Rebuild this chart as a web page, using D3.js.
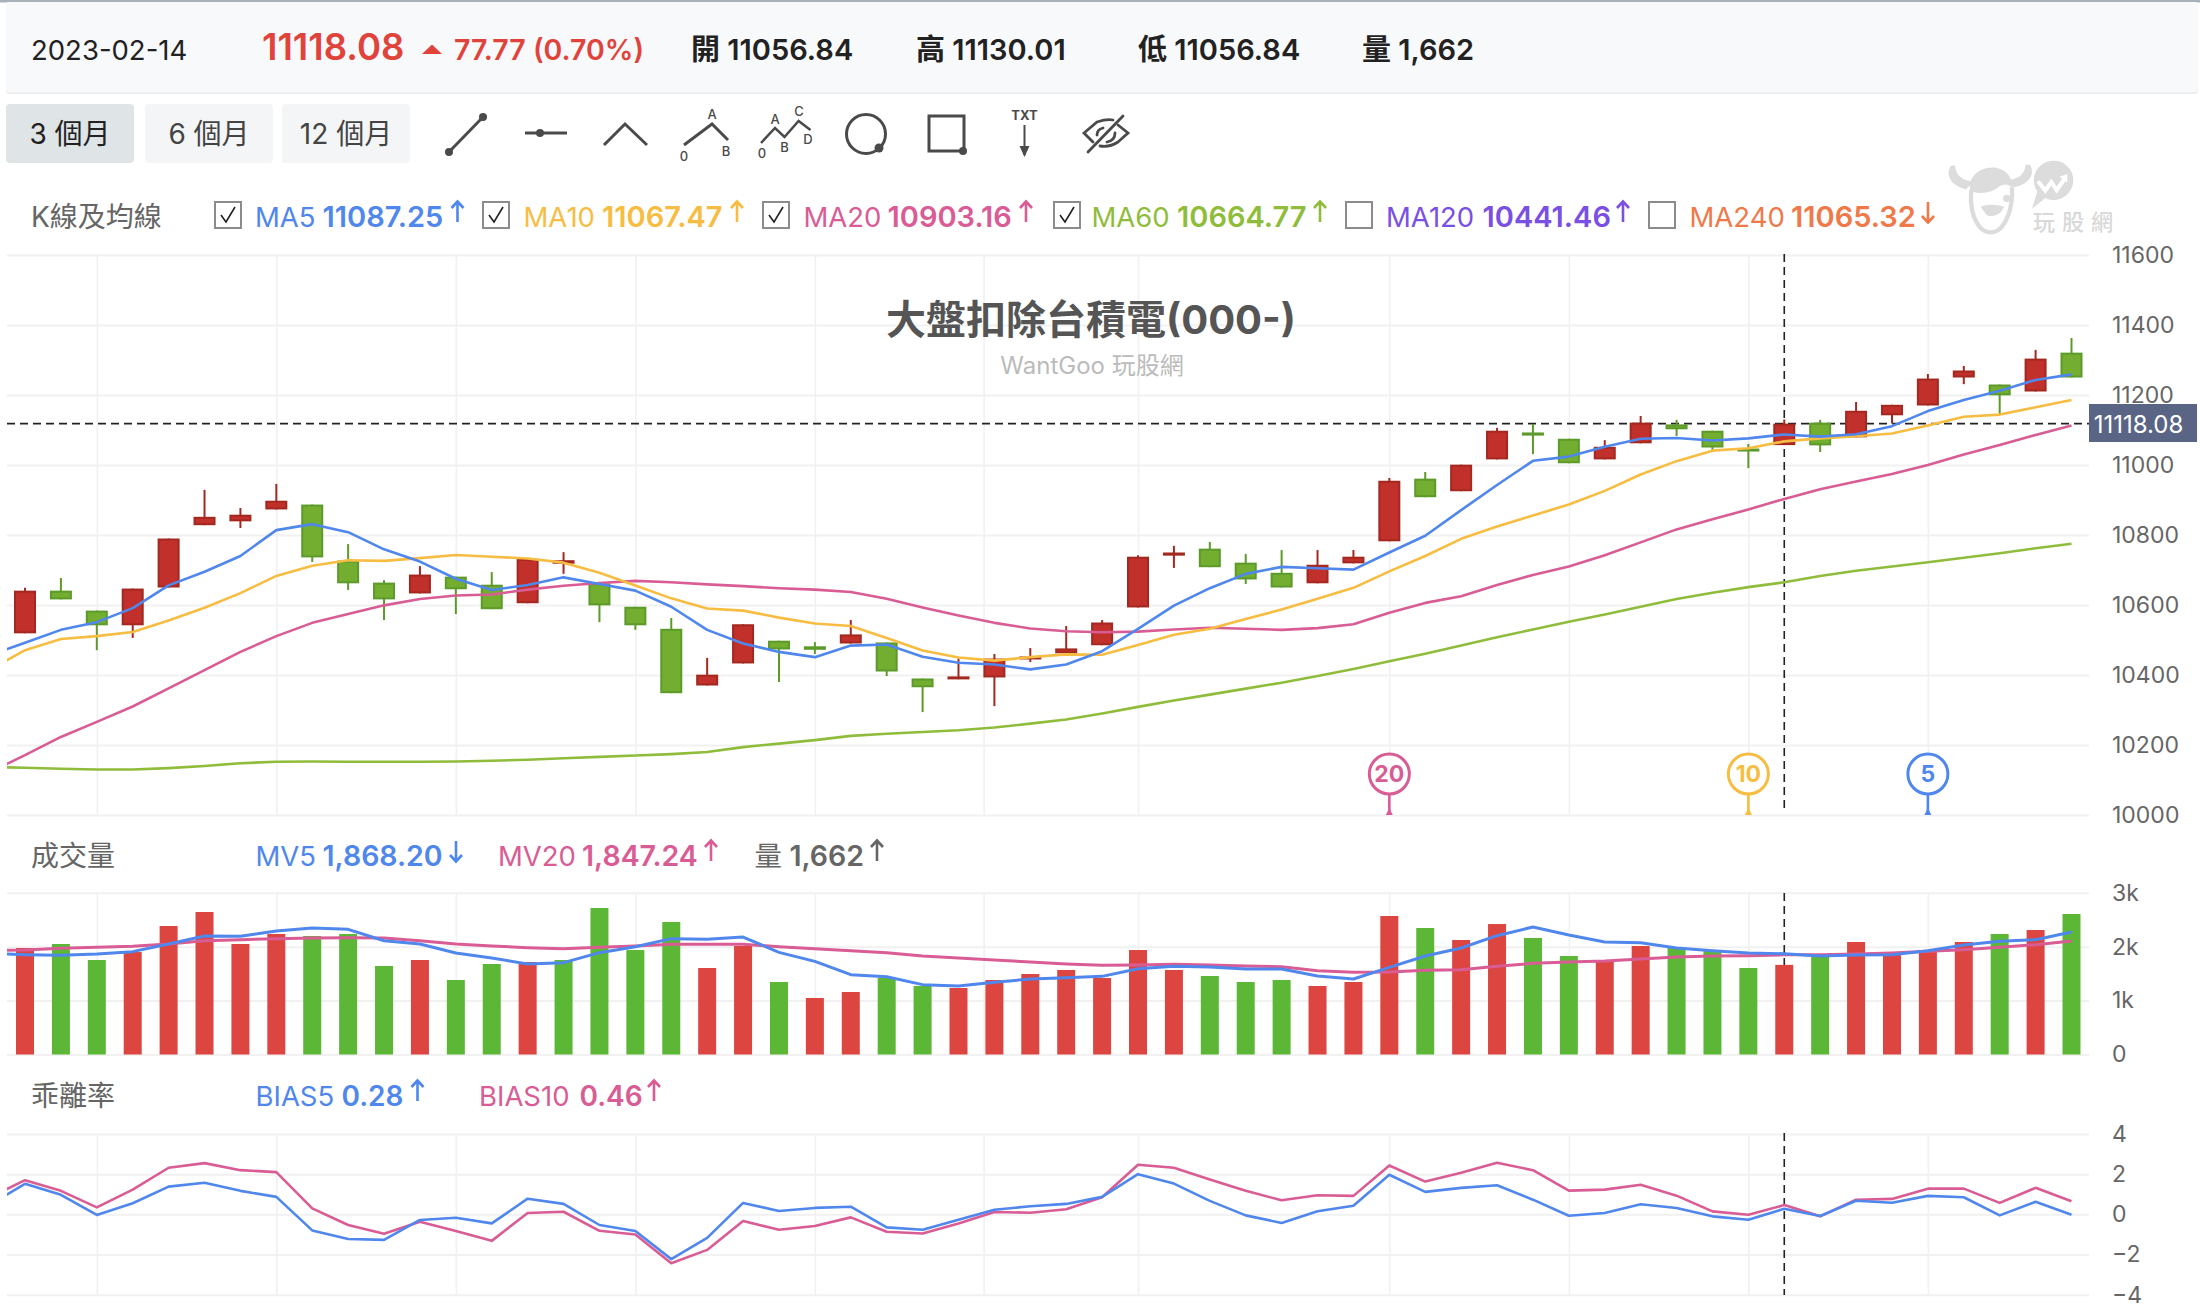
<!DOCTYPE html>
<html lang="zh-Hant">
<head>
<meta charset="utf-8">
<title>大盤扣除台積電(000-)</title>
<script src="https://cdn.jsdelivr.net/npm/d3@7/dist/d3.min.js"></script>
<style>
  html, body { margin: 0; padding: 0; background: #fff; }
  svg { display: block; font-family: Inter, "Noto Sans CJK TC", sans-serif; }
</style>
</head>
<body>
<svg id="chart" width="2200" height="1312"></svg>
<script>
// Daily candles: each series runs from the oldest session to the newest.
const candleHigh = [10649,10677,10584,10647,10790,10929,10877,10946,10887,10774,10671,10711,10681,10694,10732,10751,10662,10595,10563,10449,10545,10498,10494,10557,10493,10390,10447,10460,10477,10540,10557,10742,10769,10780,10746,10757,10757,10757,10963,10980,11001,11106,11117,11075,11071,11140,11129,11098,11060,11130.01,11129,11180,11172,11260,11283,11230,11329,11363];
const candleLow = [10519,10616,10471,10506,10650,10828,10820,10873,10723,10643,10557,10633,10574,10588,10605,10689,10551,10529,10348,10370,10433,10380,10460,10490,10397,10294,10388,10311,10437,10462,10485,10593,10706,10708,10660,10650,10662,10719,10782,10908,10925,11016,11031,11005,11016,11062,11083,11043,10991,11056.84,11037,11079,11119,11170,11231,11144,11210,11250];
const candleOpen = [10519,10641,10584,10542,10650,10828,10839,10873,10887,10727,10664,10633,10681,10658,10605,10718,10662,10595,10532,10370,10433,10498,10482,10490,10493,10390,10388,10393,10445,10462,10485,10593,10741,10761,10721,10692,10662,10719,10782,10961,10925,11016,11093,11075,11016,11062,11116,11098,11047,11056.84,11121,11079,11142,11170,11250,11230,11210,11321];
const candleClose = [10641,10616,10542,10647,10790,10852,10858,10898,10736,10662,10616,10687,10645,10588,10732,10728,10599,10542,10348,10401,10545,10473,10472,10516,10410,10365,10396,10447,10453,10476,10550,10738,10750,10708,10673,10650,10715,10738,10955,10908,11001,11098,11084,11005,11052,11121,11102,11050,11039,11118.08,11056,11155,11172,11247,11270,11199,11304,11250];

// Moving averages carry one extra leading session that starts left of the plot.
const ma5 = [10456,10492,10529,10551,10591,10656,10695,10740,10814,10831,10808,10759,10724,10675,10643,10657,10679,10660,10641,10595,10529,10490,10466,10451,10484,10487,10452,10435,10430,10416,10430,10468,10532,10598,10648,10689,10709,10705,10701,10750,10798,10871,10943,11012,11024,11052,11075,11077,11070,11076,11087.25,11081,11088,11111,11154,11186,11212,11243,11259];
const ma10 = [10414,10471,10503,10511,10523,10556,10592,10634,10683,10712,10728,10726,10734,10743,10738,10733,10721,10692,10656,10619,10590,10584,10564,10547,10540,10506,10470,10450,10441,10451,10459,10458,10486,10515,10532,10560,10587,10618,10649,10696,10740,10789,10824,10856,10887,10926,10973,11011,11041,11048,11067.47,11076,11082,11090,11113,11138,11144,11165,11186];
const ma20 = [10121,10171,10223,10266,10310,10362,10414,10466,10511,10549,10574,10599,10617,10627,10630,10644,10655,10663,10669,10665,10659,10654,10648,10644,10637,10618,10593,10570,10549,10533,10525,10522,10524,10530,10535,10532,10529,10534,10545,10578,10606,10625,10657,10686,10710,10742,10779,10816,10845,10873,10903.16,10931,10953,10974,11000,11030,11057,11086,11113];
const ma60 = [10137,10135,10132,10130,10130,10134,10140,10148,10152,10153,10152,10152,10152,10153,10155,10158,10162,10166,10170,10174,10180,10194,10204,10214,10226,10232,10237,10242,10250,10261,10273,10290,10309,10327,10344,10361,10378,10397,10417,10439,10461,10484,10508,10530,10552,10573,10595,10617,10635,10651,10664.77,10683,10698,10710,10722,10735,10748,10762,10775];

// Volume, with up (1) and down (0) days for the bar colours.
const volume = [1975,2049,1752,1900,2382,2642,2049,2234,2197,2234,1641,1752,1381,1678,1715,1752,2716,1937,2457,1604,2012,1344,1048,1159,1418,1270,1233,1381,1492,1567,1418,1937,1567,1455,1344,1381,1270,1344,2568,2345,2123,2419,2160,1826,1752,2012,1975,1937,1604,1662,1826,2086,1863,1937,2086,2234,2308,2605];
const volumeUp = [1,0,0,1,1,1,1,1,0,0,0,1,0,0,1,0,0,0,0,1,1,0,1,1,0,0,1,1,1,1,1,1,1,0,0,0,1,1,1,0,1,1,0,0,1,1,0,0,0,1,0,1,1,1,1,0,1,0];
const mv5 = [1876,1851,1839,1863,1907,2049,2197,2191,2290,2345,2321,2110,2049,1882,1789,1678,1703,1888,1999,2148,2135,2178,1894,1727,1480,1443,1295,1270,1338,1400,1424,1449,1591,1635,1622,1585,1585,1455,1400,1616,1826,1975,2203,2364,2216,2086,2073,1975,1925,1882,1868.2,1826,1845,1851,1925,2030,2098,2129,2271];
const mv20 = [1925,1937,1968,1987,2005,2049,2110,2129,2148,2160,2166,2160,2110,2049,2012,1981,1962,1987,2012,2042,2042,2042,1999,1962,1925,1888,1826,1789,1752,1715,1678,1653,1659,1672,1659,1641,1628,1554,1523,1530,1560,1573,1635,1690,1715,1733,1771,1808,1826,1832,1847.24,1851,1863,1882,1913,1944,1987,2036,2104];

// Deviation of the close from its 5 and 10 day averages, in percent.
const bias5 = [0.45,1.52,0.97,-0.03,0.55,1.38,1.57,1.17,0.87,-0.80,-1.23,-1.27,-0.28,-0.17,-0.45,0.78,0.52,-0.53,-0.83,-2.23,-1.17,0.57,0.17,0.32,0.38,-0.65,-0.77,-0.27,0.23,0.40,0.52,0.87,2.00,1.53,0.67,-0.05,-0.43,0.15,0.43,1.97,1.12,1.32,1.45,0.73,-0.07,0.07,0.50,0.32,-0.10,-0.27,0.28,-0.08,0.68,0.58,0.92,0.85,-0.05,0.63,-0.02];
const bias10 = [0.83,1.70,1.17,0.35,1.23,2.32,2.55,2.20,2.10,0.30,-0.53,-0.97,-0.37,-0.83,-1.32,0.07,0.13,-0.82,-1.00,-2.43,-1.77,-0.33,-0.77,-0.58,-0.15,-0.87,-0.95,-0.45,0.12,0.08,0.25,0.85,2.47,2.32,1.73,1.17,0.70,0.95,0.92,2.43,1.63,2.07,2.57,2.20,1.18,1.23,1.47,0.93,0.15,-0.02,0.46,-0.10,0.73,0.77,1.28,1.28,0.57,1.32,0.65];

// Axis ticks.
const priceTicks = [10000,10200,10400,10600,10800,11000,11200,11400,11600];
const volumeTicks = [0,1000,2000,3000];
const biasTicks = [-4,-2,0,2,4];
const monthTicks = [2,7,12,17,22,26.7,31,38,43,48,53];

// Crosshair session and the sessions where the close crossed an average.
const hoverIndex = 49;
const hoverPrice = 11118.08;
const crossLabels = ["20","10","5"];
const crossIndex = [38,48,53];

const chartTitle = "大盤扣除台積電(000-)";
const chartSource = "WantGoo 玩股網";
const headerDate = "2023-02-14";
const headerClose = "11118.08";
const headerChange = "77.77 (0.70%)";
const headerStats = ["開 11056.84","高 11130.01","低 11056.84","量 1,662"];
const rangeLabels = ["3 個月","6 個月","12 個月"];
const maNames = ["MA5","MA10","MA20","MA60","MA120","MA240"];
const maValues = ["11087.25","11067.47","10903.16","10664.77","10441.46","11065.32"];
const maRising = [1,1,1,1,1,0];
const maChecked = [1,1,1,1,0,0];
const volNames = ["MV5","MV20","量"];
const volValues = ["1,868.20","1,847.24","1,662"];
const volRising = [0,1,1];
const biasNames = ["BIAS5","BIAS10"];
const biasValues = ["0.28","0.46"];
const biasRising = [1,1];

const BLUE = "#5087ec", YELLOW = "#f7bd42", PINK = "#d95c95", LIME = "#8fbd3b",
      PURPLE = "#7a4fe3", ORANGE = "#f0794a", GRAY = "#666";
const UP_FILL = "#c1302a", UP_EDGE = "#a32820", DOWN_FILL = "#74ae31", DOWN_EDGE = "#5c9a2a";
const GRID = "#f1f1f1";

const svg = d3.select("#chart");
const plotLeft = 7, plotRight = 2089;

const x = d3.scaleLinear().domain([0, 57]).range([25, 2071.5]);
const yPrice = d3.scaleLinear().domain([10000, 11600]).range([815, 255]);
const yVolume = d3.scaleLinear().domain([0, 3000]).range([1054.5, 892.7]);
const yBias = d3.scaleLinear().domain([-4, 4]).range([1294.7, 1134]);

// ---- small text helper: y is the vertical centre of the digits
function label(str, px, py, size, fill, weight = 400, anchor = "start", parent = svg) {
  return parent.append("text")
    .attr("x", px).attr("y", py + size * 0.36)
    .attr("font-size", size).attr("font-weight", weight)
    .attr("fill", fill).attr("text-anchor", anchor)
    .text(str);
}

function arrow(px, py, up, color) {
  const d = up ? -1 : 1;
  svg.append("path")
    .attr("d", `M${px},${py - d * 10}V${py + d * 10}M${px - 6},${py + d * 4}L${px},${py + d * 10.5}L${px + 6},${py + d * 4}`)
    .attr("fill", "none").attr("stroke", color).attr("stroke-width", 2.6);
}

// ---- summary band
svg.append("rect").attr("x", 0).attr("y", 0).attr("width", 2200).attr("height", 2.5).attr("fill", "#a9b1b9");
svg.append("rect").attr("x", 6).attr("y", 2).attr("width", 2192).attr("height", 92).attr("rx", 3).attr("fill", "#eceef0");
svg.append("rect").attr("x", 6).attr("y", 2).attr("width", 2192).attr("height", 90).attr("rx", 3).attr("fill", "#f8f9fb");
label(headerDate, 31, 50, 27.5, "#222");
label(headerClose, 262, 47, 36.5, "#e0433c", 600);
svg.append("path").attr("d", "M422,54L432,44.5L442,54Z").attr("fill", "#e0433c");
label(headerChange, 454, 50, 28.5, "#e0433c", 600);
[691, 916, 1138, 1362].forEach((px, i) => label(headerStats[i], px, 50, 29, "#222", 600));

// ---- range buttons
[[6, 128], [145, 128], [282, 128]].forEach(([bx, bw], i) => {
  svg.append("rect").attr("x", bx).attr("y", 104).attr("width", bw).attr("height", 59).attr("rx", 4)
    .attr("fill", i === 0 ? "#dfe4e6" : "#f3f5f6");
  label(rangeLabels[i], bx + bw / 2, 134, 28, i === 0 ? "#222" : "#444", 400, "middle");
});

// ---- drawing tool icons
const tools = svg.append("g").attr("fill", "none").attr("stroke", "#4a4a4a").attr("stroke-width", 3);
const dots = svg.append("g").attr("fill", "#4a4a4a");
tools.append("path").attr("d", "M449,152L483,117");
dots.append("circle").attr("cx", 449).attr("cy", 152).attr("r", 4);
dots.append("circle").attr("cx", 483).attr("cy", 117).attr("r", 4);
tools.append("path").attr("d", "M525,133H567");
dots.append("circle").attr("cx", 540).attr("cy", 133).attr("r", 4);
tools.append("path").attr("d", "M604,145L625,124L647,145");
tools.append("path").attr("d", "M684,145L712,124L728,140");
tools.append("path").attr("d", "M761,143L775,128L784.5,137L798.6,121L810.5,130").attr("stroke-width", 2.5);
[["A",712,114],["0",684,156],["B",726,151],["A",775,119],["C",799,111],["0",762,153],["B",784.5,147],["D",808,139]]
  .forEach(([s, px, py]) => label(s, px, py, 13, "#4a4a4a", 500, "middle"));
tools.append("circle").attr("cx", 866).attr("cy", 134).attr("r", 19.5);
dots.append("circle").attr("cx", 879).attr("cy", 148).attr("r", 4.5);
tools.append("rect").attr("x", 929).attr("y", 116).attr("width", 35).attr("height", 35);
dots.append("circle").attr("cx", 963).attr("cy", 151).attr("r", 4);
label("TXT", 1024.5, 115, 13, "#4a4a4a", 700, "middle");
tools.append("path").attr("d", "M1024.5,125V155").attr("stroke-width", 2);
dots.append("path").attr("d", "M1019.5,146H1029.5L1024.5,157Z");
// Hidden-drawings toggle: an eye struck through
const eye = tools.append("g").attr("stroke-width", 2.8).attr("stroke-linecap", "round");
eye.append("path").attr("d", "M1093,142L1084,133L1097,122C1103,120 1108,119 1113,120");
eye.append("path").attr("d", "M1118,125L1128,133L1118,142C1112,146 1106,147 1100,146");
eye.append("path").attr("d", "M1097,135C1097,131 1099,129 1103,128");
eye.append("path").attr("d", "M1115,133C1115,138 1112,141 1107,142");
eye.append("path").attr("d", "M1088,152L1123,116");

// ---- section captions and indicator read-outs
label("K線及均線", 31, 217, 28, GRAY);
label("成交量", 31, 856, 28, GRAY);
label("乖離率", 31, 1096, 28, GRAY);

const maColors = [BLUE, YELLOW, PINK, LIME, PURPLE, ORANGE];
const maLayout = [[215,255,322.5,457.5],[483,523.5,602,737],[763,803.5,887.5,1026],[1054,1091.5,1177,1320],[1346,1386,1482.5,1623],[1649,1689.5,1791,1928]];
maNames.forEach((name, i) => {
  const [bx, nx, vx, ax] = maLayout[i];
  svg.append("rect").attr("x", bx).attr("y", 202).attr("width", 26).attr("height", 26)
    .attr("fill", "#fff").attr("stroke", "#8c8c8c").attr("stroke-width", 2);
  if (maChecked[i]) {
    svg.append("path").attr("d", `M${bx + 6},${215}L${bx + 11},${222}L${bx + 20},${207}`)
      .attr("fill", "none").attr("stroke", "#222").attr("stroke-width", 1.6);
  }
  label(name, nx, 217, 27.5, maColors[i]);
  label(maValues[i], vx, 217, 29, maColors[i], 600);
  arrow(ax, 212, maRising[i], maColors[i]);
});

const volColors = [BLUE, PINK, GRAY];
[[255.5,322.5,456],[498,582,711],[754.5,789.5,877]].forEach(([nx, vx, ax], i) => {
  label(volNames[i], nx, 856, 27.5, volColors[i]);
  label(volValues[i], vx, 856, 28.5, volColors[i], 600);
  arrow(ax, 851, volRising[i], volColors[i]);
});

const biasColors = [BLUE, PINK];
[[255.5,341.5,417.5],[479,579.5,654]].forEach(([nx, vx, ax], i) => {
  label(biasNames[i], nx, 1096, 27.5, biasColors[i]);
  label(biasValues[i], vx, 1096, 28, biasColors[i], 600);
  arrow(ax, 1091, biasRising[i], biasColors[i]);
});

// ---- watermark: bull head beside a speech bubble
const mark = svg.append("g").attr("transform", "translate(1930,150) scale(0.3333)");
const markFill = "#dcdcdc";
mark.append("path").attr("fill", markFill)
  .attr("d", "M62,48C46,76 62,106 108,118L132,95C100,92 78,80 75,46Z");
mark.append("path").attr("fill", markFill)
  .attr("d", "M300,44C316,70 300,102 252,112L234,90C266,88 285,70 287,44Z");
mark.append("path").attr("fill", markFill)
  .attr("d", "M120,100C130,62 170,48 200,54C230,60 248,84 250,116C236,102 222,98 205,112C182,130 150,134 120,122Z");
mark.append("path").attr("fill", "none").attr("stroke", markFill).attr("stroke-width", 13)
  .attr("d", "M124,120C120,165 128,205 150,232C168,252 196,252 214,232C236,205 248,165 246,112");
mark.append("circle").attr("fill", markFill).attr("cx", 230).attr("cy", 145).attr("r", 11);
mark.append("path").attr("fill", markFill)
  .attr("d", "M152,170C178,160 204,164 222,170C214,196 184,202 170,196Z");
mark.append("path").attr("fill", markFill)
  .attr("d", "M372,32C338,32 312,58 312,90C312,106 316,116 322,124L306,176L346,144C354,148 362,150 372,150C404,150 430,122 430,90C430,58 404,32 372,32Z");
mark.append("path").attr("fill", "none").attr("stroke", "#fff").attr("stroke-width", 12)
  .attr("d", "M324,94L346,122L364,96L380,120L406,84");
mark.append("path").attr("fill", "#fff").attr("d", "M388,80L412,72L412,98Z");
label("玩股網", 2033, 222, 22, "#d8d8d8", 500).attr("letter-spacing", 7);

// ---- gridlines and axes
function styleAxis(g) {
  g.select(".domain").remove();
  g.selectAll(".tick line").attr("stroke", GRID).attr("stroke-width", 2);
  g.selectAll(".tick text").attr("fill", GRAY).attr("font-size", 23).attr("font-family", "Inter, sans-serif").attr("text-anchor", "start");
}
function yAxis(scale, ticks, fmt) {
  svg.append("g").attr("transform", `translate(${plotRight},0)`)
    .call(d3.axisRight(scale).tickValues(ticks).tickFormat(fmt).tickSize(-(plotRight - plotLeft)).tickPadding(23))
    .call(styleAxis);
}
function xGrid(scale) {
  const [top, bottom] = [scale.range()[1], scale.range()[0]];
  svg.append("g").attr("transform", `translate(0,${bottom})`)
    .call(d3.axisBottom(x).tickValues(monthTicks).tickFormat("").tickSize(-(bottom - top)))
    .call(g => {
      g.select(".domain").remove();
      g.selectAll(".tick line").attr("stroke", GRID).attr("stroke-width", 1.6);
    });
}
[yPrice, yVolume, yBias].forEach(xGrid);
yAxis(yPrice, priceTicks, d3.format("d"));
yAxis(yVolume, volumeTicks, d => d === 0 ? "0" : `${d / 1000}k`);
yAxis(yBias, biasTicks, d3.format("d"));

// ---- title behind the plotted marks
label(chartTitle, 1091, 320, 40, "#555", 700, "middle");
label(chartSource, 1092, 365, 24, "#bbb", 400, "middle");

// ---- crosshair
const DASH = "8,5";
function vDash(y1, y2) {
  svg.append("line").attr("x1", x(hoverIndex)).attr("x2", x(hoverIndex)).attr("y1", y1).attr("y2", y2)
    .attr("stroke", "#222").attr("stroke-width", 1.6).attr("stroke-dasharray", DASH);
}
vDash(254, 808); vDash(893, 1054); vDash(1133, 1295);
svg.append("line").attr("x1", plotLeft).attr("x2", plotRight).attr("y1", yPrice(hoverPrice)).attr("y2", yPrice(hoverPrice))
  .attr("stroke", "#222").attr("stroke-width", 1.6).attr("stroke-dasharray", DASH);

// ---- candles
const sessions = d3.range(candleOpen.length);
const isUp = i => candleClose[i] >= candleOpen[i];
const candles = svg.append("g").selectAll("g").data(sessions).join("g");
candles.append("line")
  .attr("x1", i => x(i)).attr("x2", i => x(i))
  .attr("y1", i => yPrice(candleHigh[i])).attr("y2", i => yPrice(candleLow[i]))
  .attr("stroke", i => isUp(i) ? UP_EDGE : DOWN_EDGE).attr("stroke-width", 2);
candles.append("rect")
  .attr("x", i => x(i) - 10).attr("width", 20)
  .attr("y", i => yPrice(Math.max(candleOpen[i], candleClose[i])) + 1)
  .attr("height", i => Math.max(1, Math.abs(yPrice(candleOpen[i]) - yPrice(candleClose[i])) - 2))
  .attr("fill", i => isUp(i) ? UP_FILL : DOWN_FILL)
  .attr("stroke", i => isUp(i) ? UP_EDGE : DOWN_EDGE).attr("stroke-width", 2);

// ---- line series, clipped to the plot so the lead-in session starts at its left edge
svg.append("defs").append("clipPath").attr("id", "plot-clip")
  .append("rect").attr("x", plotLeft).attr("y", 0).attr("width", plotRight - plotLeft).attr("height", 1312);
function series(values, scale, color, width) {
  const line = d3.line().x((d, i) => x(i - 1)).y(d => scale(d));
  svg.append("path").datum(values).attr("d", line).attr("fill", "none")
    .attr("stroke", color).attr("stroke-width", width).attr("stroke-linejoin", "round")
    .attr("clip-path", "url(#plot-clip)");
}
series(ma60, yPrice, LIME, 2.6);
series(ma20, yPrice, PINK, 2.6);
series(ma10, yPrice, YELLOW, 2.6);
series(ma5, yPrice, BLUE, 2.6);

// ---- crossing badges along the bottom of the price panel
crossLabels.forEach((s, i) => {
  const cx = x(crossIndex[i]);
  const color = [PINK, YELLOW, BLUE][i];
  svg.append("path").attr("d", `M${cx},795V812`).attr("stroke", color).attr("stroke-width", 2.6);
  svg.append("path").attr("d", `M${cx - 3.5},815L${cx},808L${cx + 3.5},815Z`).attr("fill", color);
  svg.append("circle").attr("cx", cx).attr("cy", 774).attr("r", 20).attr("fill", "#fff").attr("stroke", color).attr("stroke-width", 3);
  label(s, cx, 773.5, 23, color, 700, "middle");
});

// ---- price tag on the axis
svg.append("rect").attr("x", 2089).attr("y", 404).attr("width", 108).attr("height", 38).attr("fill", "#5a6585");
label(headerClose, 2138.5, 424, 24, "#fff", 400, "middle");

// ---- volume bars and averages
svg.append("g").selectAll("rect").data(sessions).join("rect")
  .attr("x", i => x(i) - 9).attr("width", 18)
  .attr("y", i => yVolume(volume[i]))
  .attr("height", i => yVolume(0) - yVolume(volume[i]))
  .attr("fill", i => volumeUp[i] ? "#dd4540" : "#5cb736");
series(mv20, yVolume, PINK, 3);
series(mv5, yVolume, BLUE, 3);

// ---- deviation lines
series(bias10, yBias, PINK, 2.6);
series(bias5, yBias, BLUE, 2.6);
</script>
</body>
</html>
